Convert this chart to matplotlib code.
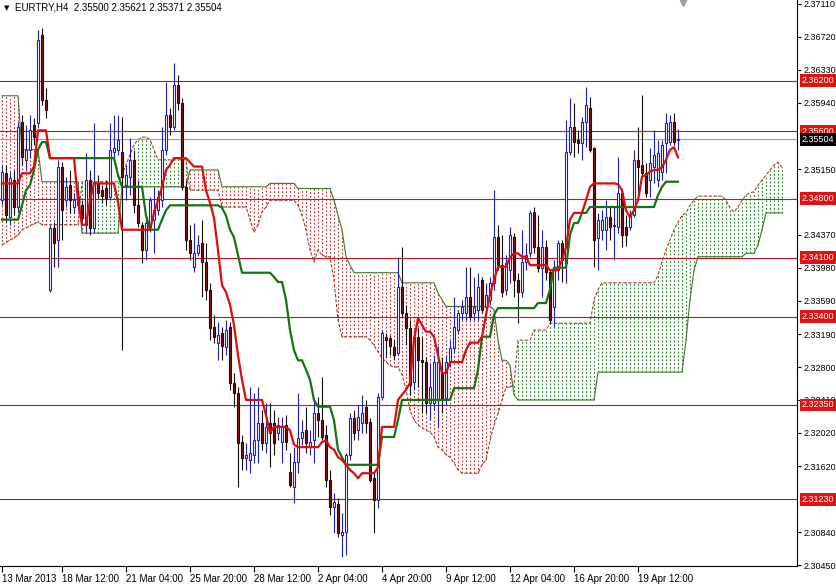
import matplotlib
matplotlib.use('Agg')
import matplotlib.pyplot as plt
from matplotlib.transforms import blended_transform_factory
import numpy as np

# EURTRY H4 candles (one value per bar, oldest first)
opens = [2.3478, 2.3510, 2.3458, 2.3502, 2.3470, 2.3571, 2.3526, 2.3538, 2.3567, 2.3570,
         2.3674, 2.3597, 2.3372, 2.3445, 2.3431, 2.3518, 2.3478, 2.3496, 2.3470, 2.3472,
         2.3472, 2.3449, 2.3502, 2.3445, 2.3498, 2.3490, 2.3492, 2.3482, 2.3535, 2.3538,
         2.3535, 2.3496, 2.3506, 2.3526, 2.3472, 2.3449, 2.3419, 2.3446, 2.3455, 2.3466,
         2.3478, 2.3538, 2.3579, 2.3565, 2.3615, 2.3593, 2.3494, 2.3431, 2.3399, 2.3415,
         2.3427, 2.3405, 2.3372, 2.3328, 2.3309, 2.3320, 2.3304, 2.3328, 2.3261, 2.3249,
         2.3191, 2.3172, 2.3170, 2.3176, 2.3193, 2.3214, 2.3190, 2.3214, 2.3214, 2.3202,
         2.3191, 2.3211, 2.3155, 2.3138, 2.3167, 2.3196, 2.3205, 2.3185, 2.3193, 2.3225,
         2.3217, 2.3199, 2.3146, 2.3114, 2.3118, 2.3081, 2.3084, 2.3176, 2.3219, 2.3205,
         2.3214, 2.3233, 2.3215, 2.3148, 2.3122, 2.3245, 2.3316, 2.3314, 2.3304, 2.3297,
         2.3375, 2.3344, 2.3326, 2.3262, 2.3316, 2.3288, 2.3286, 2.3237, 2.3237, 2.3241,
         2.3274, 2.3243, 2.3286, 2.3303, 2.3324, 2.3344, 2.3344, 2.3363, 2.3344, 2.3348,
         2.3383, 2.3351, 2.3360, 2.3380, 2.3434, 2.3401, 2.3372, 2.3395, 2.3434, 2.3383,
         2.3369, 2.3405, 2.3415, 2.3464, 2.3423, 2.3398, 2.3423, 2.3393, 2.3351, 2.3395,
         2.3427, 2.3404, 2.3535, 2.3565, 2.3550, 2.3546, 2.3571, 2.3588, 2.3540, 2.3433,
         2.3443, 2.3443, 2.3458, 2.3447, 2.3446, 2.3487, 2.3446, 2.3446, 2.3460, 2.3526,
         2.3520, 2.3510, 2.3502, 2.3518, 2.3502, 2.3512, 2.3546, 2.3547, 2.3571, 2.35500]
highs = [2.3520, 2.3520, 2.3512, 2.3514, 2.3571, 2.3579, 2.3567, 2.3579, 2.3576, 2.3680,
         2.3683, 2.3611, 2.3449, 2.3452, 2.3526, 2.3523, 2.3506, 2.3514, 2.3487, 2.3490,
         2.3478, 2.3534, 2.3514, 2.3570, 2.3508, 2.3496, 2.3502, 2.3570, 2.3579, 2.3579,
         2.3577, 2.3520, 2.3552, 2.3538, 2.3502, 2.3452, 2.3458, 2.3482, 2.3494, 2.3490,
         2.3565, 2.3618, 2.3587, 2.3641, 2.3627, 2.3599, 2.3502, 2.3449, 2.3451, 2.3437,
         2.3455, 2.3427, 2.3380, 2.3342, 2.3334, 2.3328, 2.3336, 2.3334, 2.3273, 2.3256,
         2.3199, 2.3190, 2.3256, 2.3249, 2.3256, 2.3229, 2.3237, 2.3237, 2.3229, 2.3221,
         2.3221, 2.3223, 2.3178, 2.3185, 2.3249, 2.3217, 2.3233, 2.3205, 2.3241, 2.3245,
         2.3268, 2.3211, 2.3158, 2.3130, 2.3125, 2.3107, 2.3178, 2.3225, 2.3229, 2.3235,
         2.3247, 2.3241, 2.3219, 2.3154, 2.3249, 2.3324, 2.3320, 2.3318, 2.3312, 2.3411,
         2.3422, 2.3354, 2.3336, 2.3324, 2.3328, 2.3316, 2.3292, 2.3285, 2.3294, 2.3305,
         2.3292, 2.3294, 2.3312, 2.3363, 2.3348, 2.3360, 2.3399, 2.3399, 2.3387, 2.3392,
         2.3387, 2.3380, 2.3387, 2.3490, 2.3449, 2.3437, 2.3413, 2.3446, 2.3439, 2.3392,
         2.3443, 2.3427, 2.3466, 2.3470, 2.3460, 2.3443, 2.3431, 2.3395, 2.3407, 2.3431,
         2.3431, 2.3573, 2.3599, 2.3594, 2.3561, 2.3577, 2.3612, 2.3600, 2.3541, 2.3463,
         2.3466, 2.3478, 2.3470, 2.3470, 2.3529, 2.3490, 2.3460, 2.3466, 2.3538, 2.3565,
         2.3603, 2.3522, 2.3540, 2.3561, 2.3550, 2.3550, 2.3582, 2.3579, 2.3582, 2.35621]
lows = [2.3472, 2.3452, 2.3449, 2.3460, 2.3464, 2.3520, 2.3514, 2.3528, 2.3544, 2.3564,
        2.3591, 2.3576, 2.3369, 2.3399, 2.3399, 2.3431, 2.3470, 2.3463, 2.3463, 2.3466,
        2.3449, 2.3439, 2.3437, 2.3439, 2.3481, 2.3475, 2.3472, 2.3478, 2.3528, 2.3532,
        2.3300, 2.3478, 2.3484, 2.3463, 2.3446, 2.3404, 2.3407, 2.3440, 2.3415, 2.3460,
        2.3470, 2.3532, 2.3556, 2.3561, 2.3585, 2.3490, 2.3419, 2.3407, 2.3393, 2.3412,
        2.3363, 2.3360, 2.3312, 2.3309, 2.3288, 2.3288, 2.3294, 2.3253, 2.3233, 2.3138,
        2.3158, 2.3158, 2.3154, 2.3166, 2.3166, 2.3182, 2.3178, 2.3161, 2.3176, 2.3193,
        2.3166, 2.3182, 2.3138, 2.3119, 2.3154, 2.3188, 2.3178, 2.3176, 2.3166, 2.3197,
        2.3193, 2.3138, 2.3104, 2.3083, 2.3078, 2.3055, 2.3057, 2.3170, 2.3193, 2.3193,
        2.3202, 2.3202, 2.3144, 2.3083, 2.3113, 2.3241, 2.3292, 2.3294, 2.3288, 2.3294,
        2.3339, 2.3306, 2.3247, 2.3253, 2.3256, 2.3225, 2.3225, 2.3217, 2.3229, 2.3209,
        2.3225, 2.3235, 2.3280, 2.3297, 2.3320, 2.3336, 2.3336, 2.3336, 2.3336, 2.3336,
        2.3344, 2.3344, 2.3354, 2.3372, 2.3395, 2.3363, 2.3366, 2.3380, 2.3363, 2.3332,
        2.3363, 2.3395, 2.3411, 2.3415, 2.3393, 2.3363, 2.3383, 2.3332, 2.3328, 2.3383,
        2.3381, 2.3380, 2.3532, 2.3529, 2.3534, 2.3526, 2.3541, 2.3535, 2.3399, 2.3395,
        2.3431, 2.3419, 2.3431, 2.3407, 2.3439, 2.3422, 2.3424, 2.3443, 2.3458, 2.3487,
        2.3506, 2.3482, 2.3482, 2.3498, 2.3494, 2.3502, 2.3510, 2.3544, 2.3544, 2.35371]
closes = [2.3512, 2.3460, 2.3504, 2.3470, 2.3565, 2.3529, 2.3538, 2.3561, 2.3553, 2.3668,
          2.3597, 2.3585, 2.3445, 2.3427, 2.3518, 2.3466, 2.3494, 2.3478, 2.3478, 2.3482,
          2.3457, 2.3502, 2.3445, 2.3500, 2.3487, 2.3483, 2.3481, 2.3538, 2.3540, 2.3550,
          2.3506, 2.3508, 2.3526, 2.3472, 2.3451, 2.3419, 2.3451, 2.3478, 2.3466, 2.3482,
          2.3538, 2.3579, 2.3565, 2.3615, 2.3593, 2.3494, 2.3431, 2.3415, 2.3415, 2.3425,
          2.3405, 2.3372, 2.3326, 2.3316, 2.3318, 2.3305, 2.3324, 2.3261, 2.3249, 2.3190,
          2.3172, 2.3176, 2.3178, 2.3193, 2.3214, 2.3190, 2.3209, 2.3202, 2.3190, 2.3211,
          2.3209, 2.3191, 2.3140, 2.3167, 2.3196, 2.3203, 2.3190, 2.3191, 2.3225, 2.3217,
          2.3197, 2.3146, 2.3114, 2.3120, 2.3083, 2.3084, 2.3176, 2.3219, 2.3202, 2.3221,
          2.3225, 2.3214, 2.3146, 2.3122, 2.3245, 2.3320, 2.3312, 2.3305, 2.3294, 2.3375,
          2.3344, 2.3326, 2.3259, 2.3316, 2.3288, 2.3286, 2.3237, 2.3256, 2.3286, 2.3286,
          2.3241, 2.3286, 2.3303, 2.3328, 2.3344, 2.3351, 2.3363, 2.3339, 2.3351, 2.3375,
          2.3348, 2.3365, 2.3380, 2.3434, 2.3401, 2.3369, 2.3404, 2.3437, 2.3383, 2.3369,
          2.3405, 2.3413, 2.3463, 2.3423, 2.3398, 2.3423, 2.3393, 2.3336, 2.3399, 2.3427,
          2.3407, 2.3535, 2.3565, 2.3547, 2.3546, 2.3571, 2.3591, 2.3538, 2.3431, 2.3455,
          2.3455, 2.3458, 2.3446, 2.3449, 2.3487, 2.3437, 2.3437, 2.3460, 2.3526, 2.3518,
          2.3510, 2.3487, 2.3522, 2.3532, 2.3534, 2.3544, 2.3570, 2.3571, 2.3547, 2.35504]

# Ichimoku lines
tenkan = ([2.3498] * 5 + [2.3510] * 3 + [2.3518] + [2.3561] * 3 + [2.3528] * 7 + [2.3478]
          + [2.3449] * 2 + [2.3478] + [2.3498] * 6 + [2.3476] + [2.3443] * 8
          + [2.3463, 2.3478, 2.3494, 2.3514, 2.3520] + [2.3528] * 4 + [2.3523, 2.3518, 2.3518, 2.3518]
          + [2.3490, 2.3475, 2.3457, 2.3419, 2.3377, 2.3369, 2.3354, 2.3330, 2.3294, 2.3265]
          + [2.3241] * 5 + [2.3223, 2.3202] + [2.3209] * 4 + [2.3205, 2.3188] + [2.3185] * 6
          + [2.3191, 2.3193, 2.3185, 2.3182, 2.3173, 2.3170, 2.3164, 2.3158, 2.3154, 2.3148]
          + [2.3154] * 4 + [2.3161] + [2.3209] * 4
          + [2.3241, 2.3247, 2.3253, 2.3261, 2.3312, 2.3338, 2.3330] + [2.3322] * 2 + [2.3316, 2.3294]
          + [2.3273] * 2 + [2.3286] * 4 + [2.3300] + [2.3309] * 3 + [2.3316, 2.3342, 2.3366, 2.3383]
          + [2.3399] * 3 + [2.3410] + [2.3415] * 2 + [2.3411] * 2 + [2.3401] * 5 + [2.3395] * 3
          + [2.3407, 2.3422, 2.3455] + [2.3463] * 3 + [2.3478, 2.3494] + [2.3498] * 6
          + [2.3497, 2.3490, 2.3466, 2.3458, 2.3466, 2.3478, 2.3506, 2.3508, 2.3512] + [2.3514] * 2
          + [2.3517, 2.3526, 2.3538, 2.3541, 2.3529])
kijun = ([2.3455] * 5 + [2.3472, 2.3490, 2.3496, 2.3514, 2.3538] + [2.3547] * 2 + [2.3528] * 17
         + [2.3508] + [2.3494] * 6 + [2.3460] + [2.3443] * 3 + [2.3455, 2.3466] + [2.3472] * 13
         + [2.3469, 2.3460, 2.3443, 2.3434, 2.3413] + [2.3392] * 8 + [2.3387] + [2.3381] * 2
         + [2.3360, 2.3324, 2.3300] + [2.3288] * 2 + [2.3277, 2.3265, 2.3241] + [2.3233] * 4
         + [2.3217, 2.3182, 2.3173] + [2.3164] * 9 + [2.3197] * 4 + [2.3217] + [2.3241] * 13
         + [2.3255] * 6 + [2.3277] + [2.3316] * 3 + [2.3342] + [2.3350] * 10 + [2.3356] * 3
         + [2.3372] + [2.3398] * 4 + [2.3437] + [2.3451] * 2 + [2.3463] * 2 + [2.3470] * 17
         + [2.3484, 2.3494] + [2.3500] * 4)
# cloud runs 26 bars past the last candle
span_a = ([2.3425, 2.3428, 2.3431, 2.3433, 2.3437, 2.3443, 2.3445, 2.3448, 2.3450, 2.3452]
          + [2.3449] * 10 + [2.3500] * 10 + [2.3508, 2.3520, 2.3532, 2.3544, 2.3550, 2.3553]
          + [2.3553, 2.3550, 2.3538] + [2.3526] * 8 + [2.3490] * 8 + [2.3470] * 7
          + [2.3455, 2.3440, 2.3449, 2.3464, 2.3470] + [2.3478] * 7
          + [2.3472, 2.3460, 2.3443, 2.3419, 2.3405, 2.3419, 2.3413, 2.3411, 2.3411]
          + [2.3383, 2.3336] + [2.3316] * 7 + [2.3312, 2.3306, 2.3298, 2.3291, 2.3286, 2.3282, 2.3280]
          + [2.3280, 2.3271, 2.3253] + [2.3229, 2.3217, 2.3211, 2.3208, 2.3205, 2.3203, 2.3197]
          + [2.3185, 2.3182, 2.3176, 2.3173] + [2.3166, 2.3158] + [2.3154] * 5 + [2.3164, 2.3170]
          + [2.3193, 2.3211, 2.3225, 2.3241, 2.3256, 2.3256, 2.3259] + [2.3312] * 4 + [2.3324] * 4
          + [2.3332] * 11 + [2.3360, 2.3372] + [2.3380] * 14
          + [2.3389, 2.3405, 2.3419, 2.3431, 2.3443, 2.3452, 2.3460, 2.3463, 2.3472, 2.3478]
          + [2.3483] * 7 + [2.3478, 2.3469, 2.3464, 2.3470, 2.3478, 2.3484, 2.3487, 2.3488]
          + [2.3496, 2.3502, 2.3508, 2.3514, 2.3520, 2.3523, 2.3517])
span_b = ([2.3602] * 5 + [2.3538] * 5 + [2.3500] * 10 + [2.3439] * 10 + [2.3494] * 17
          + [2.3514] * 8 + [2.3494] * 12 + [2.3498] * 7 + [2.3492] * 9
          + [2.3478, 2.3460, 2.3443, 2.3411, 2.3401] + [2.3392] * 12 + [2.3380] * 9 + [2.3368, 2.3360]
          + [2.3352] * 12 + [2.3348, 2.3312, 2.3288, 2.3288, 2.3282, 2.3247] + [2.3241] * 20
          + [2.3274] * 22 + [2.3312, 2.3360, 2.3395] + [2.3411] * 12 + [2.3415] * 3
          + [2.3425, 2.3443] + [2.3463] * 5)

levels = [2.3620, 2.3560, 2.3480, 2.3410, 2.3340, 2.3235, 2.3123]
bid = 2.35504
price_ticks = [2.3711, 2.3672, 2.3633, 2.3594, 2.3515, 2.3437, 2.3398, 2.3359,
               2.3319, 2.3280, 2.3241, 2.3202, 2.3162, 2.3084, 2.3045]
date_pos = [0, 15, 31, 47, 63, 79, 95, 111, 127, 143, 159]
date_labels = ['13 Mar 2013', '18 Mar 12:00', '21 Mar 04:00', '25 Mar 20:00', '28 Mar 12:00',
               '2 Apr 04:00', '4 Apr 20:00', '9 Apr 12:00', '12 Apr 04:00', '16 Apr 20:00',
               '19 Apr 12:00']

if __name__ == '__main__':
    plt.rcParams['font.family'] = ['Liberation Sans', 'DejaVu Sans']

    fig = plt.figure(figsize=(8.36, 5.84), dpi=100)
    ax = fig.add_axes([0, 18 / 584, 797 / 836, 566 / 584])

    # cloud: one dotted vertical stroke per bar
    a = np.array(span_a)
    b = np.array(span_b)
    xs = np.arange(len(a))
    up = a >= b
    ax.vlines(xs[up], b[up], a[up], colors='#2c8a2c', linestyles=(0, (1.6, 1.8)), lw=0.8, zorder=1)
    ax.vlines(xs[~up], a[~up], b[~up], colors='#c03a3a', linestyles=(0, (1.6, 1.8)), lw=0.8, zorder=1)
    ax.plot(xs, a, color='#a8402c', lw=0.8, ls=(0, (3, 1.5)), zorder=1.5)
    ax.plot(np.arange(len(b)), b, color='#3c7a2c', lw=0.8, zorder=1.5)

    # support / resistance lines
    for lv in levels:
        ax.axhline(lv, color='#c0141e', lw=0.8, zorder=2)
    ax.axhline(bid, color='#8ea2b6', lw=0.8, zorder=2)

    # candles
    o = np.array(opens)
    h = np.array(highs)
    l = np.array(lows)
    c = np.array(closes)
    x = np.arange(len(c))
    bull = c >= o
    ax.vlines(x[bull], l[bull], h[bull], color='#2020b4', lw=0.8, zorder=3)
    ax.vlines(x[~bull], l[~bull], h[~bull], color='#101010', lw=0.8, zorder=3)
    ax.bar(x[bull], (c - o)[bull], bottom=o[bull], width=0.62, facecolor='white',
           edgecolor='#2020b4', lw=0.8, zorder=4)
    ax.bar(x[~bull], (c - o)[~bull], bottom=o[~bull], width=0.62, facecolor='#7e1414',
           edgecolor='#2a0808', lw=0.8, zorder=4)

    # tenkan / kijun
    ax.plot(np.arange(len(kijun)), kijun, color='#147414', lw=1.6, zorder=5)
    ax.plot(np.arange(len(tenkan)), tenkan, color='#e00c0c', lw=1.6, zorder=6)

    ax.set_xlim(-0.5, -0.5 + 797 / 4)
    ax.set_ylim(2.30439, 2.37157)

    # axes look
    for s in ['left', 'top']:
        ax.spines[s].set_visible(False)
    ax.spines['right'].set_color('black')
    ax.spines['bottom'].set_color('black')
    ax.yaxis.tick_right()
    ax.set_yticks(price_ticks)
    ax.set_yticklabels(['%.5f' % t for t in price_ticks])
    ax.tick_params(axis='y', length=3, width=0.8, pad=2, labelsize=6.5, colors='black')
    ax.set_xticks(date_pos)
    ax.set_xticklabels(date_labels)
    for lab in ax.get_xticklabels():
        lab.set_horizontalalignment('left')
    ax.tick_params(axis='x', length=4, width=0.8, pad=2, labelsize=7, colors='black')

    # price boxes on the right scale
    tr = blended_transform_factory(ax.transAxes, ax.transData)
    for lv in levels:
        ax.text(1.006, lv, '%.5f' % lv, transform=tr, ha='left', va='center', fontsize=6.5,
                color='white', bbox=dict(boxstyle='square,pad=0.22', fc='#de1212', ec='none'),
                zorder=10)
    ax.text(1.006, bid, '%.5f' % bid, transform=tr, ha='left', va='center', fontsize=6.5,
            color='white', bbox=dict(boxstyle='square,pad=0.22', fc='black', ec='none'), zorder=11)

    # header
    fig.text(4 / 836, 1 - 8 / 584, '\u25bc', fontsize=5, family='DejaVu Sans', va='center')
    fig.text(15 / 836, 1 - 8 / 584, 'EURTRY,H4  2.35500 2.35621 2.35371 2.35504',
             fontsize=7, va='center', color='black')
    ax.plot([683 / 797], [0.997], marker='v', color='#a0a0a0', ms=6,
            transform=ax.transAxes, clip_on=False)

    fig.savefig('out.png', dpi=100)
